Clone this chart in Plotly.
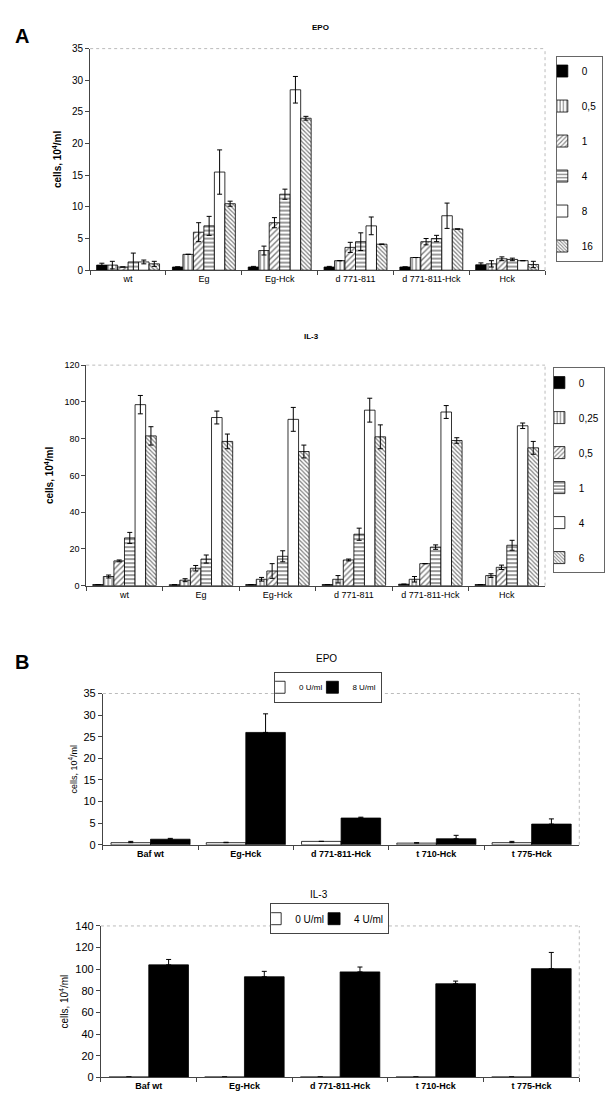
import plotly.graph_objects as go

FONT = "Liberation Sans, Arial, sans-serif"

# ---------------- Panel A : EPO ----------------
a_groups = ["wt", "Eg", "Eg-Hck", "d 771-811", "d 771-811-Hck", "Hck"]
a_epo_doses = ["0", "0,5", "1", "4", "8", "16"]
a_epo_0 = [0.8, 0.5, 0.5, 0.5, 0.5, 0.85]
a_epo_0_err = [0.3, 0.0, 0.1, 0.1, 0.0, 0.3]
a_epo_05 = [0.8, 2.5, 3.1, 1.5, 2.0, 1.0]
a_epo_05_err = [0.6, 0.0, 0.7, 0.0, 0.0, 0.5]
a_epo_1 = [0.5, 6.0, 7.5, 3.6, 4.5, 1.8]
a_epo_1_err = [0.0, 1.5, 0.8, 0.8, 0.5, 0.3]
a_epo_4 = [1.3, 7.0, 12.0, 4.5, 5.0, 1.7]
a_epo_4_err = [1.4, 1.5, 0.8, 1.4, 0.5, 0.2]
a_epo_8 = [1.3, 15.5, 28.5, 7.0, 8.6, 1.5]
a_epo_8_err = [0.3, 3.5, 2.1, 1.4, 2.0, 0.0]
a_epo_16 = [1.0, 10.5, 24.0, 4.1, 6.5, 0.9]
a_epo_16_err = [0.4, 0.4, 0.3, 0.0, 0.0, 0.5]

# ---------------- Panel A : IL-3 ----------------
a_il3_doses = ["0", "0,25", "0,5", "1", "4", "6"]
a_il3_0 = [0.6, 0.5, 0.6, 0.6, 0.8, 0.6]
a_il3_0_err = [0, 0, 0, 0, 0, 0]
a_il3_025 = [5.0, 3.0, 3.5, 3.5, 3.5, 5.5]
a_il3_025_err = [0.8, 0.8, 1.0, 2.0, 1.5, 1.0]
a_il3_05 = [13.5, 9.5, 8.0, 14.0, 12.0, 10.0]
a_il3_05_err = [0.5, 1.5, 4.0, 0.5, 0.0, 1.2]
a_il3_1 = [26.0, 14.5, 16.0, 28.0, 21.0, 22.0]
a_il3_1_err = [3.0, 2.2, 3.0, 3.3, 1.2, 2.7]
a_il3_4 = [98.5, 91.5, 90.5, 95.5, 94.5, 87.0]
a_il3_4_err = [5.0, 3.5, 6.5, 6.5, 3.5, 1.5]
a_il3_6 = [81.5, 78.5, 73.0, 81.0, 79.0, 75.0]
a_il3_6_err = [5.0, 4.0, 3.5, 6.5, 1.5, 3.5]

# ---------------- Panel B ----------------
b_groups = ["Baf wt", "Eg-Hck", "d 771-811-Hck", "t 710-Hck", "t 775-Hck"]
b_epo_names = ["0 U/ml", "8 U/ml"]
b_epo_0 = [0.5, 0.5, 0.8, 0.4, 0.5]
b_epo_0_err = [0.3, 0.1, 0.0, 0.1, 0.3]
b_epo_8 = [1.3, 26.0, 6.2, 1.4, 4.8]
b_epo_8_err = [0.2, 4.3, 0.2, 0.8, 1.2]
b_il3_names = ["0 U/ml", "4 U/ml"]
b_il3_0 = [0.3, 0.3, 0.3, 0.3, 0.3]
b_il3_0_err = [0, 0, 0, 0, 0]
b_il3_4 = [104.0, 93.0, 97.5, 86.5, 100.5]
b_il3_4_err = [5.0, 5.0, 4.5, 2.5, 15.0]

# pattern styles for the six series of panel A
a_styles = [
    dict(color="black", pattern=None),
    dict(color="white", pattern=dict(shape="|", size=4, solidity=0.35, fgcolor="black", bgcolor="white")),
    dict(color="white", pattern=dict(shape="/", size=4, solidity=0.35, fgcolor="black", bgcolor="white")),
    dict(color="white", pattern=dict(shape="-", size=4, solidity=0.4, fgcolor="black", bgcolor="white")),
    dict(color="white", pattern=None),
    dict(color="white", pattern=dict(shape="\\", size=3, solidity=0.4, fgcolor="black", bgcolor="white")),
]

fig = go.Figure()


def add_bar(name, x, y, err, xa, ya, legend, style, symmetric=True):
    marker = dict(color=style["color"], line=dict(color="black", width=0.8))
    if style.get("pattern"):
        marker["pattern"] = style["pattern"]
    if symmetric:
        ey = dict(type="data", array=err, visible=True, color="black", thickness=1, width=2.5)
    else:
        ey = dict(type="data", array=err, arrayminus=[0] * len(err), symmetric=False,
                  visible=True, color="black", thickness=1, width=2.5)
    fig.add_trace(go.Bar(name=name, x=x, y=y, error_y=ey, marker=marker,
                         xaxis=xa, yaxis=ya, legend=legend, legendgroup=legend + name))


epo_series = [a_epo_0, a_epo_05, a_epo_1, a_epo_4, a_epo_8, a_epo_16]
epo_errs = [a_epo_0_err, a_epo_05_err, a_epo_1_err, a_epo_4_err, a_epo_8_err, a_epo_16_err]
for name, vals, errs, st in zip(a_epo_doses, epo_series, epo_errs, a_styles):
    add_bar(name, a_groups, vals, errs, "x", "y", "legend", st)

il3_series = [a_il3_0, a_il3_025, a_il3_05, a_il3_1, a_il3_4, a_il3_6]
il3_errs = [a_il3_0_err, a_il3_025_err, a_il3_05_err, a_il3_1_err, a_il3_4_err, a_il3_6_err]
for name, vals, errs, st in zip(a_il3_doses, il3_series, il3_errs, a_styles):
    add_bar(name, a_groups, vals, errs, "x2", "y2", "legend2", st)

b_styles = [dict(color="white", pattern=None), dict(color="black", pattern=None)]
for name, vals, errs, st in zip(b_epo_names, [b_epo_0, b_epo_8], [b_epo_0_err, b_epo_8_err], b_styles):
    add_bar(name, b_groups, vals, errs, "x3", "y3", "legend3", st, symmetric=False)
for name, vals, errs, st in zip(b_il3_names, [b_il3_0, b_il3_4], [b_il3_0_err, b_il3_4_err], b_styles):
    add_bar(name, b_groups, vals, errs, "x4", "y4", "legend4", st, symmetric=False)

# the page body has an 8px margin: the figure is drawn 8px in from the window corner
OFF = 8.0
W = 613.0 - 2 * OFF
H = 1117.0 - 2 * OFF


def py(p):
    return 1 - (p - OFF) / H


def px(p):
    return (p - OFF) / W


axis_common = dict(showline=True, linecolor="#444", linewidth=1, ticks="outside",
                   ticklen=4, tickcolor="#444", showgrid=False, zeroline=False,
                   tickfont=dict(family=FONT, size=10, color="black"))

xcat = dict(axis_common, tickson="boundaries", type="category",
            tickfont=dict(family=FONT, size=9, color="black"))

layout = dict(
    width=int(W), height=int(H), margin=dict(l=0, r=0, t=0, b=0),
    paper_bgcolor="white", plot_bgcolor="white",
    font=dict(family=FONT, color="black"),
    barmode="group", bargap=0.17, bargroupgap=0.0,
    showlegend=True,
    xaxis=dict(xcat, domain=[px(92), px(557)], anchor="y"),
    yaxis=dict(axis_common, domain=[py(267), py(43)], range=[0, 35], dtick=5, anchor="x",
               title=dict(text="<b>cells, 10<sup>4</sup>/ml</b>", font=dict(size=10), standoff=8)),
    xaxis2=dict(xcat, domain=[px(88), px(557)], anchor="y2"),
    yaxis2=dict(axis_common, domain=[py(586), py(363)], range=[0, 120], dtick=20, anchor="x2",
                tickfont=dict(family=FONT, size=9, color="black"),
                title=dict(text="<b>cells, 10<sup>4</sup>/ml</b>", font=dict(size=10), standoff=8)),
    xaxis3=dict(xcat, domain=[px(105), px(592)], anchor="y3",
                tickfont=dict(family=FONT, size=9, color="black", weight="bold")),
    yaxis3=dict(axis_common, domain=[py(848), py(695)], range=[0, 35], dtick=5, anchor="x3",
                tickfont=dict(family=FONT, size=11, color="black"),
                title=dict(text="cells, 10<sup>4</sup>/ml", font=dict(size=9), standoff=4)),
    xaxis4=dict(xcat, domain=[px(103), px(592)], anchor="y4",
                tickfont=dict(family=FONT, size=9, color="black", weight="bold")),
    yaxis4=dict(axis_common, domain=[py(1083), py(930)], range=[0, 140], dtick=20, anchor="x4",
                tickfont=dict(family=FONT, size=11, color="black"),
                title=dict(text="cells, 10<sup>4</sup>/ml", font=dict(size=10), standoff=4)),
    legend=dict(x=px(568), y=py(50), xanchor="left", yanchor="top", bordercolor="#666",
                borderwidth=1, font=dict(size=10), itemwidth=30, indentation=-15,
                tracegroupgap=16, bgcolor="white"),
    legend2=dict(x=px(565), y=py(365), xanchor="left", yanchor="top", bordercolor="#666",
                 borderwidth=1, font=dict(size=10), itemwidth=30, indentation=-15,
                 tracegroupgap=16, bgcolor="white"),
    legend3=dict(x=px(280), y=py(673), xanchor="left", yanchor="top", orientation="h",
                 bordercolor="#444", borderwidth=1, font=dict(size=8), itemwidth=30,
                 indentation=-15, tracegroupgap=0, bgcolor="white"),
    legend4=dict(x=px(276), y=py(907), xanchor="left", yanchor="top", orientation="h",
                 bordercolor="#444", borderwidth=1, font=dict(size=10), itemwidth=30,
                 indentation=-15, tracegroupgap=0, bgcolor="white"),
)
fig.update_layout(**layout)

# dotted plot-area frame (top and right edges)
shapes = []
for xa, ya in [("x", "y"), ("x2", "y2"), ("x3", "y3"), ("x4", "y4")]:
    shapes.append(dict(type="line", xref=xa + " domain", yref=ya + " domain", x0=0, x1=1, y0=1, y1=1,
                       line=dict(color="#bbb", width=1, dash="dot")))
    shapes.append(dict(type="line", xref=xa + " domain", yref=ya + " domain", x0=1, x1=1, y0=0, y1=1,
                       line=dict(color="#bbb", width=1, dash="dot")))
fig.update_layout(shapes=shapes)


def ann(text, x, y, size):
    return dict(text=text, x=px(x), y=py(y), xref="paper", yref="paper", showarrow=False,
                xanchor="center", yanchor="middle", font=dict(size=size))


annotations = [
    ann("<b>A</b>", 22, 30, 20),
    ann("<b>B</b>", 22, 663, 20),
    ann("<b>EPO</b>", 327, 22, 8),
    ann("<b>IL-3</b>", 318, 334, 8),
    ann("EPO", 334, 660, 10),
    ann("IL-3", 326, 898, 10),
]
fig.update_layout(annotations=annotations)

fig.write_html("out.html")
